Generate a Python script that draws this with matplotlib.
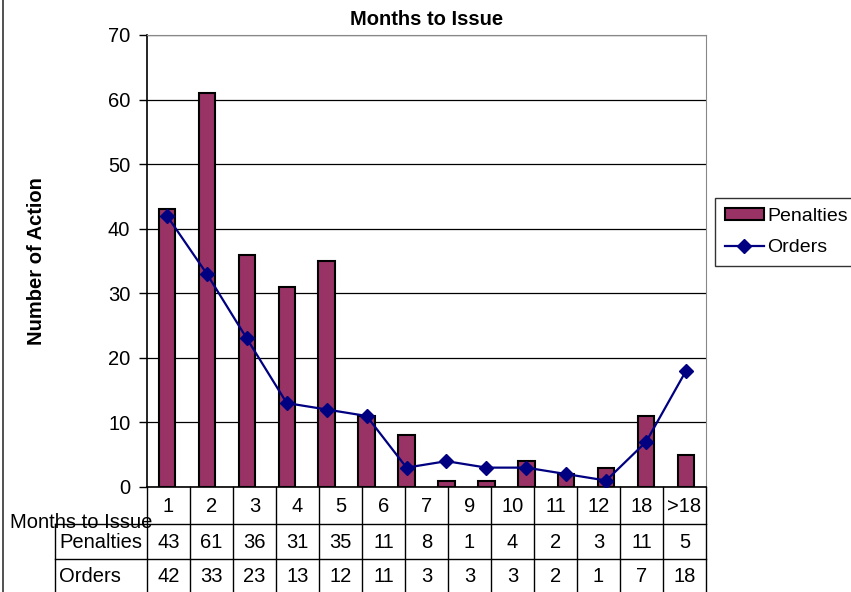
import numpy as np
import matplotlib.pyplot as plt
from matplotlib.lines import Line2D

plt.rcParams['font.family'] = ['Liberation Sans', 'DejaVu Sans']

# plotted series (14 categories on the chart)
penalties = [43, 61, 36, 31, 35, 11, 8, 1, 1, 4, 2, 3, 11, 5]
orders = [42, 33, 23, 13, 12, 11, 3, 4, 3, 3, 2, 1, 7, 18]

# data table below the chart (13 columns)
table_months = ['1', '2', '3', '4', '5', '6', '7', '9', '10', '11', '12', '18', '>18']
table_penalties = [43, 61, 36, 31, 35, 11, 8, 1, 4, 2, 3, 11, 5]
table_orders = [42, 33, 23, 13, 12, 11, 3, 3, 3, 2, 1, 7, 18]

W, H = 851, 592
fig = plt.figure(figsize=(W / 100, H / 100), dpi=100)

bar_color = '#993366'
line_color = '#000080'
fs = 14.5

# main plot area
ax = fig.add_axes([147 / W, 1 - 487 / H, 559 / W, (487 - 35) / H])
x = np.arange(len(penalties))
bars = ax.bar(x, penalties, width=0.41, color=bar_color, edgecolor='black', linewidth=1.5,
              label='Penalties', zorder=3)
line, = ax.plot(x, orders, color=line_color, lw=1.6, marker='D', markersize=7,
                label='Orders', zorder=4)

ax.set_xlim(-0.5, len(penalties) - 0.5)
ax.set_ylim(0, 70)
ax.set_yticks(np.arange(0, 71, 10))
ax.tick_params(axis='y', direction='out', length=6, width=1, pad=6, labelsize=fs)
ax.tick_params(axis='x', bottom=False, labelbottom=False)
ax.yaxis.grid(True, color='black', lw=0.9)
ax.set_axisbelow(True)
ax.spines['top'].set_color('#888888')
ax.spines['right'].set_color('#888888')
ax.spines['left'].set_linewidth(1.2)
ax.spines['bottom'].set_linewidth(1.2)

ax.set_title('Months to Issue', fontsize=fs, fontweight='bold', pad=7)
ax.set_ylabel('Number of Action', fontsize=fs, fontweight='bold', va='center')
ax.yaxis.set_label_coords(-0.197, 0.5)

leg = ax.legend([bars, line], ['Penalties', 'Orders'], loc='upper left',
                bbox_to_anchor=(715 / W, 1 - 198 / H),
                bbox_transform=fig.transFigure, fontsize=14, frameon=True,
                fancybox=False, edgecolor='black', borderpad=0.5,
                handlelength=2.0, handleheight=0.55, handletextpad=0.2,
                labelspacing=0.75, borderaxespad=0)
leg.get_frame().set_linewidth(1.0)

# data table
tax = fig.add_axes([147 / W, (H - 594) / H, 559 / W, 107 / H])
n = len(table_months)
tax.set_xlim(0, n)
tax.set_ylim(107, 0)
tax.axis('off')
rows = [0, 37, 72, 107]
left = -(147 - 55) / (559 / n)
for i in range(n + 1):
    tax.plot([i, i], [rows[0], rows[3]], color='black', lw=1, clip_on=False)
for r in rows[1:]:
    tax.plot([left, n], [r, r], color='black', lw=1, clip_on=False)
tax.plot([left, left], [rows[1], rows[3]], color='black', lw=1, clip_on=False)

for i in range(n):
    tax.text(i + 0.5, 19, table_months[i], ha='center', va='center', fontsize=fs)
    tax.text(i + 0.5, 55, str(table_penalties[i]), ha='center', va='center', fontsize=fs)
    tax.text(i + 0.5, 90, str(table_orders[i]), ha='center', va='center', fontsize=fs)

tax.text(-(147 - 10) / (559 / n), 36, 'Months to Issue', ha='left', va='center',
         fontsize=fs, clip_on=False, zorder=0)
tax.text(left + 0.1, 55, 'Penalties', ha='left', va='center', fontsize=fs, clip_on=False)
tax.text(left + 0.1, 90, 'Orders', ha='left', va='center', fontsize=fs, clip_on=False)

# chart area border on the left edge
fig.add_artist(Line2D([2.5 / W, 2.5 / W], [0, 1], color='#333333', lw=1.2,
                      transform=fig.transFigure))

fig.savefig('out.png', dpi=100)
